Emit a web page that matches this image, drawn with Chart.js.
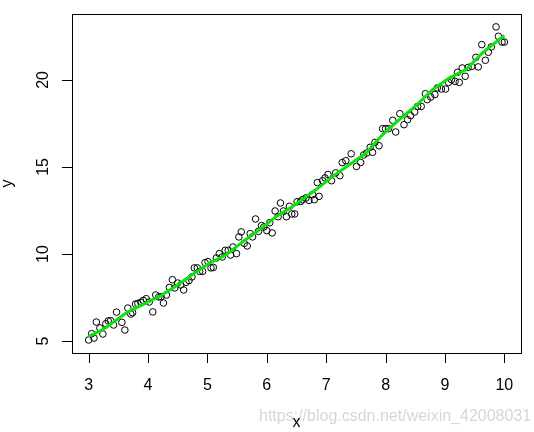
<!DOCTYPE html>
<html>
<head>
<meta charset="utf-8">
<script src="https://cdn.jsdelivr.net/npm/chart.js@4/dist/chart.umd.min.js"></script>
<style>
  html, body { margin: 0; padding: 0; background: #fff; }
  #wrap { width: 534px; height: 432px; }
</style>
</head>
<body>
<div id="wrap"><canvas id="c" width="534" height="432"></canvas></div>
<script>
const xs = [
  3.00, 3.05, 3.09, 3.13, 3.19, 3.24, 3.29, 3.33, 3.37, 3.42, 3.47, 3.56, 3.61, 3.66, 3.71, 3.74,
  3.79, 3.83, 3.88, 3.92, 3.97, 4.02, 4.08, 4.13, 4.18, 4.22, 4.26, 4.31, 4.36, 4.41, 4.45, 4.50,
  4.55, 4.60, 4.64, 4.69, 4.74, 4.78, 4.83, 4.87, 4.92, 4.96, 5.01, 5.06, 5.10, 5.15, 5.20, 5.25,
  5.30, 5.35, 5.39, 5.43, 5.49, 5.53, 5.57, 5.62, 5.67, 5.72, 5.76, 5.81, 5.86, 5.91, 5.95, 6.00,
  6.05, 6.09, 6.14, 6.19, 6.23, 6.28, 6.33, 6.38, 6.42, 6.47, 6.51, 6.57, 6.60, 6.66, 6.71, 6.77,
  6.80, 6.85, 6.88, 6.94, 6.98, 7.03, 7.09, 7.16, 7.23, 7.27, 7.33, 7.42, 7.51, 7.58, 7.63, 7.68,
  7.74, 7.78, 7.82, 7.89, 7.95, 8.00, 8.05, 8.12, 8.17, 8.24, 8.31, 8.37, 8.42, 8.49, 8.54, 8.60,
  8.67, 8.70, 8.76, 8.83, 8.87, 8.94, 9.01, 9.06, 9.11, 9.17, 9.21, 9.24, 9.29, 9.34, 9.39, 9.45,
  9.52, 9.56, 9.62, 9.68, 9.73, 9.78, 9.86, 9.90, 9.96, 10.00
];
const ys = [
  5.06, 5.42, 5.17, 6.09, 5.75, 5.40, 5.99, 6.15, 6.17, 5.92, 6.66, 6.07, 5.63, 6.89, 6.55, 6.63,
  7.12, 7.16, 7.22, 7.33, 7.43, 7.24, 6.67, 7.64, 7.53, 7.55, 7.18, 7.64, 8.08, 8.52, 8.05, 8.33,
  8.22, 7.93, 8.37, 8.47, 8.68, 9.20, 9.20, 9.00, 9.00, 9.50, 9.56, 9.20, 9.23, 9.77, 10.02, 9.83,
  10.21, 10.21, 9.94, 10.40, 10.02, 10.98, 11.27, 10.61, 10.46, 11.17, 10.98, 12.01, 11.30, 11.63, 11.55, 11.34,
  11.80, 11.21, 12.47, 12.14, 12.93, 12.47, 12.14, 12.74, 12.30, 12.30, 13.00, 13.02, 13.12, 13.22, 13.08, 13.41,
  13.12, 14.10, 13.31, 14.21, 14.37, 14.57, 14.21, 14.66, 14.50, 15.25, 15.36, 15.76, 15.03, 15.26, 15.69, 15.80,
  16.13, 15.84, 16.41, 16.22, 17.20, 17.20, 17.20, 17.68, 17.01, 18.06, 17.43, 17.72, 17.95, 18.16, 18.48, 18.48,
  19.21, 18.87, 19.02, 19.16, 19.54, 19.48, 19.48, 19.86, 20.02, 19.92, 20.44, 19.86, 20.69, 20.21, 20.72, 20.78,
  21.30, 20.75, 22.03, 21.13, 21.59, 21.90, 23.05, 22.51, 22.18, 22.18
];

// fitted curve (green line)
const fitX = [3.00, 3.24, 3.63, 3.91, 4.19, 4.48, 4.76, 5.04, 5.32, 5.60, 5.88, 6.16, 6.44,
              6.83, 7.11, 7.39, 7.67, 7.95, 8.23, 8.51, 8.79, 9.07, 9.35, 9.63, 10.00];
const fitY = [5.26, 5.65, 6.61, 7.09, 7.56, 8.18, 8.85, 9.48, 9.96, 10.72, 11.40, 12.16, 12.74,
              13.70, 14.46, 15.13, 15.80, 16.86, 17.72, 18.52, 19.44, 20.11, 20.59, 21.55, 22.56];

const xTicks = [3, 4, 5, 6, 7, 8, 9, 10];
const yTicks = [5, 10, 15, 20];
const xTitle = 'x';
const yTitle = 'y';
const watermark = 'https://blog.csdn.net/weixin_42008031';

const FONT = '16px "Liberation Sans", Arial, sans-serif';

// R-style box, ticks and labels drawn on top of the chart area
const baseAxes = {
  id: 'baseAxes',
  afterDraw(chart) {
    const ctx = chart.ctx;
    const a = chart.chartArea;
    const sx = chart.scales.x, sy = chart.scales.y;
    ctx.save();
    ctx.strokeStyle = '#000';
    ctx.lineWidth = 1;
    ctx.strokeRect(Math.round(a.left) + 0.5, Math.round(a.top) + 0.5,
                   Math.round(a.right - a.left), Math.round(a.bottom - a.top));

    ctx.fillStyle = '#000';
    ctx.font = FONT;

    // x axis ticks + labels
    ctx.beginPath();
    xTicks.forEach(v => {
      const px = Math.round(sx.getPixelForValue(v)) + 0.5;
      ctx.moveTo(px, a.bottom);
      ctx.lineTo(px, a.bottom + 10);
    });
    ctx.stroke();
    ctx.textAlign = 'center';
    ctx.textBaseline = 'alphabetic';
    xTicks.forEach(v => {
      ctx.fillText(String(v), sx.getPixelForValue(v), 390);
    });

    // y axis ticks + labels (rotated, like R)
    ctx.beginPath();
    yTicks.forEach(v => {
      const py = Math.round(sy.getPixelForValue(v)) + 0.5;
      ctx.moveTo(a.left, py);
      ctx.lineTo(a.left - 10, py);
    });
    ctx.stroke();
    yTicks.forEach(v => {
      ctx.save();
      ctx.translate(48, sy.getPixelForValue(v));
      ctx.rotate(-Math.PI / 2);
      ctx.textAlign = 'center';
      ctx.fillText(String(v), 0, 0);
      ctx.restore();
    });

    // watermark
    ctx.fillStyle = '#d6d6d6';
    ctx.textAlign = 'left';
    ctx.fillText(watermark, 259, 421);

    // axis titles
    ctx.fillStyle = '#000';
    ctx.textAlign = 'center';
    ctx.fillText(xTitle, (a.left + a.right) / 2, 427);
    ctx.save();
    ctx.translate(12, (a.top + a.bottom) / 2);
    ctx.rotate(-Math.PI / 2);
    ctx.fillText(yTitle, 0, 0);
    ctx.restore();

    ctx.restore();
  }
};

const points = xs.map((x, i) => ({ x: x, y: ys[i] }));
const fitted = fitX.map((x, i) => ({ x: x, y: fitY[i] }));

new Chart(document.getElementById('c'), {
  type: 'scatter',
  data: {
    datasets: [
      {
        label: 'fit',
        data: fitted,
        showLine: true,
        borderColor: '#0be30b',
        borderWidth: 3,
        pointRadius: 0,
        tension: 0,
        order: 0
      },
      {
        label: 'obs',
        data: points,
        pointStyle: 'circle',
        pointRadius: 3.3,
        pointBorderWidth: 1,
        pointBorderColor: '#000',
        pointBackgroundColor: 'rgba(0,0,0,0)',
        order: 1
      }
    ]
  },
  options: {
    responsive: false,
    animation: false,
    layout: { padding: { left: 72, top: 14, right: 13, bottom: 79 } },
    plugins: {
      legend: { display: false },
      tooltip: { enabled: false }
    },
    scales: {
      x: { type: 'linear', min: 2.72, max: 10.28, display: false },
      y: { type: 'linear', min: 4.31, max: 23.79, display: false }
    }
  },
  plugins: [baseAxes]
});
</script>
</body>
</html>
